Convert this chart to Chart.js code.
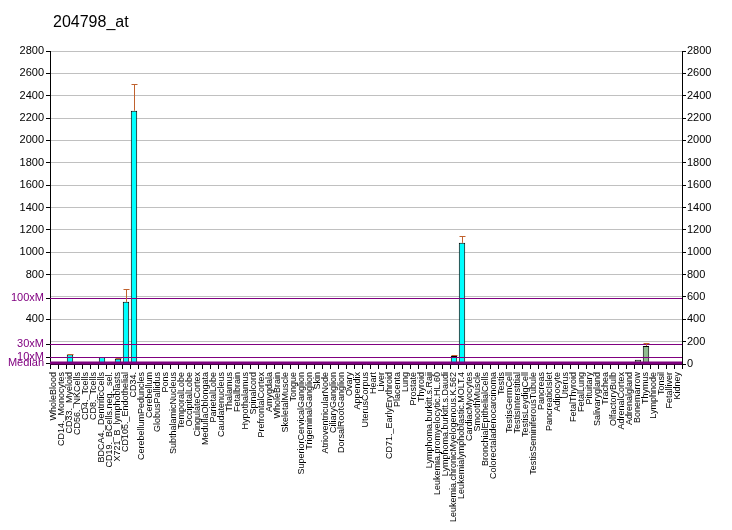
<!DOCTYPE html>
<html>
<head>
<meta charset="utf-8">
<script src="https://cdn.jsdelivr.net/npm/chart.js@4.4.1/dist/chart.umd.min.js"></script>
<style>
  html, body { margin: 0; padding: 0; background: #fff; }
</style>
</head>
<body>
<canvas id="chart" width="732" height="530"></canvas>
<script>
// Expression profile 204798_at — bars per tissue with error bars and median multiples.

const TITLE = '204798_at';

const CATEGORIES = [
    'WholeBlood', 'CD14._Monocytes', 'CD33._Myeloid', 'CD56._NKCells', 'CD4._Tcells',
    'CD8._Tcells', 'BDCA4._DentriticCells', 'CD19._BCells.neg._sel.', 'X721_B_lymphoblasts', 'CD105._Endothelial',
    'CD34.', 'CerebellumPeduncles', 'Cerebellum', 'GlobusPallidus', 'Pons',
    'SubthalamicNucleus', 'TemporalLobe', 'OccipitalLobe', 'CingulateCortex', 'MedullaOblongata',
    'ParietalLobe', 'Caudatenucleus', 'Thalamus', 'Fetalbrain', 'Hypothalamus',
    'Spinalcord', 'PrefrontalCortex', 'Amygdala', 'WholeBrain', 'SkeletalMuscle',
    'Tongue', 'SuperiorCervicalGanglion', 'TrigeminalGanglion', 'Skin', 'AtrioventricularNode',
    'CiliaryGanglion', 'DorsalRootGanglion', 'Ovary', 'Appendix', 'UterusCorpus',
    'Heart', 'Liver', 'CD71._EarlyErythroid', 'Placenta', 'Lung',
    'Prostate', 'Thyroid', 'Lymphoma.burkitt.s.Raji', 'Leukemia.promyelocytic.HL.60', 'Lymphoma.burkitt.s.Daudi',
    'Leukemia.chronicMyelogenous.K.562', 'Leukemialymphoblastic.MOLT.4', 'CardiacMyocytes', 'SmoothMuscle', 'BronchialEpithelialCells',
    'Colorectaladenocarcinoma', 'Testis', 'TestisGermCell', 'TestisInterstitial', 'TestisLeydigCell',
    'TestisSeminiferousTubule', 'Pancreas', 'PancreaticIslet', 'Adipocyte', 'Uterus',
    'FetalThyroid', 'FetalLung', 'Pituitary', 'Salivarygland', 'Trachea',
    'OlfactoryBulb', 'AdrenalCortex', 'Adrenalgland', 'Bonemarrow', 'Thymus',
    'Lymphnode', 'Tonsil', 'Fetalliver', 'Kidney'
];

const VALUES = [
    5, 6, 84, 5, 4,
    5, 60, 6, 46, 556,
    2266, 4, 5, 3, 4,
    5, 4, 6, 5, 4,
    5, 4, 6, 5, 4,
    5, 6, 4, 5, 6,
    5, 4, 5, 6, 4,
    5, 4, 6, 5, 5,
    6, 4, 7, 5, 6,
    5, 4, 6, 7, 5,
    72, 1084, 5, 6, 4,
    5, 6, 4, 5, 6,
    4, 5, 6, 5, 4,
    6, 5, 4, 6, 5,
    4, 6, 5, 37, 162,
    6, 5, 4, 5
];

const ERRORS = [
    0, 0, 6, 0, 0,
    0, 0, 0, 9, 116,
    242, 0, 0, 0, 0,
    0, 0, 0, 0, 0,
    0, 0, 0, 0, 0,
    0, 0, 0, 0, 0,
    0, 0, 0, 0, 0,
    0, 0, 0, 0, 0,
    0, 0, 0, 0, 0,
    0, 0, 0, 0, 0,
    12, 63, 0, 0, 0,
    0, 0, 0, 0, 0,
    0, 0, 0, 0, 0,
    0, 0, 0, 0, 0,
    0, 0, 0, 0, 28,
    0, 0, 0, 0
];

const GREEN_CATEGORIES = ['Bonemarrow', 'Thymus', 'Lymphnode', 'Tonsil', 'Fetalliver', 'Kidney'];

const MEDIAN = 5.9;
const MEDIAN_MULTIPLES = [1, 10, 30, 100];
const MEDIAN_LABELS = ['Median', '10xM', '30xM', '100xM'];

const LEFT_TICKS = [2800, 2600, 2400, 2200, 2000, 1800, 1600, 1400, 1200, 1000, 800, 400];
const Y_MAX = 2800;
const Y_STEP = 200;

const PURPLE = '#800080';
const ERR_COLOR = '#c0622e';
const FONT = "'Liberation Sans', Arial, sans-serif";

const markerValues = MEDIAN_MULTIPLES.map(m => m * MEDIAN);

function markerLabel(v) {
    const idx = markerValues.indexOf(v);
    return idx >= 0 ? MEDIAN_LABELS[idx] : null;
}

const titlePlugin = {
    id: 'plainTitle',
    afterDraw(chart) {
        const ctx = chart.ctx;
        ctx.save();
        ctx.fillStyle = '#000';
        ctx.font = '16px ' + FONT;
        ctx.textBaseline = 'alphabetic';
        ctx.fillText(TITLE, 53, 27);
        ctx.restore();
    }
};

const overlayPlugin = {
    id: 'overlay',
    afterDatasetsDraw(chart) {
        const { ctx, chartArea, scales } = chart;
        const y = scales.y;
        const meta = chart.getDatasetMeta(0);
        ctx.save();

        // median lines
        ctx.strokeStyle = PURPLE;
        markerValues.forEach((v, i) => {
            const py = Math.round(y.getPixelForValue(v));
            ctx.lineWidth = i === 0 ? 3 : 1;
            ctx.beginPath();
            ctx.moveTo(chartArea.left, py + (i === 0 ? 0 : 0.5));
            ctx.lineTo(chartArea.right, py + (i === 0 ? 0 : 0.5));
            ctx.stroke();
        });

        // error bars
        ctx.strokeStyle = ERR_COLOR;
        ctx.lineWidth = 1;
        VALUES.forEach((v, i) => {
            const e = ERRORS[i];
            if (!e) return;
            const px = Math.round(meta.data[i].x) + 0.5;
            const top = Math.round(y.getPixelForValue(v + e)) + 0.5;
            const base = y.getPixelForValue(v);
            ctx.beginPath();
            ctx.moveTo(px, base);
            ctx.lineTo(px, top);
            ctx.moveTo(px - 3, top);
            ctx.lineTo(px + 3, top);
            ctx.stroke();
        });
        ctx.restore();
    }
};

const tickFont = { family: FONT, size: 11 };

new Chart(document.getElementById('chart'), {
    type: 'bar',
    data: {
        labels: CATEGORIES,
        datasets: [{
            data: VALUES,
            backgroundColor: CATEGORIES.map(c => GREEN_CATEGORIES.includes(c) ? '#8fbc8f' : '#00ffff'),
            borderColor: '#000',
            borderWidth: 1,
            barPercentage: 0.8,
            categoryPercentage: 1
        }]
    },
    options: {
        responsive: false,
        animation: false,
        devicePixelRatio: 1,
        layout: { padding: { top: 51, left: 0, right: 0, bottom: 0 } },
        plugins: {
            legend: { display: false },
            tooltip: { enabled: false }
        },
        scales: {
            x: {
                offset: true,
                grid: { drawOnChartArea: false, drawTicks: true, tickLength: 5, tickColor: '#000', offset: true },
                border: { display: true, color: '#000' },
                ticks: {
                    autoSkip: false,
                    minRotation: 90,
                    maxRotation: 90,
                    padding: 3,
                    color: '#000',
                    font: { family: FONT, size: 9 }
                },
                afterFit(s) { s.height = 166; }
            },
            y: {
                position: 'left',
                min: 0,
                max: Y_MAX,
                afterBuildTicks(s) {
                    s.ticks = LEFT_TICKS.concat(markerValues).map(v => ({ value: v }));
                },
                ticks: {
                    autoSkip: false,
                    padding: 2,
                    font: tickFont,
                    color: c => markerLabel(c.tick.value) ? PURPLE : '#000',
                    callback: v => markerLabel(v) || String(v)
                },
                grid: { drawOnChartArea: false, tickLength: 4, tickColor: '#000' },
                border: { color: '#000' },
                afterFit(s) { s.width = 50; }
            },
            y2: {
                position: 'right',
                min: 0,
                max: Y_MAX,
                ticks: {
                    stepSize: Y_STEP,
                    autoSkip: false,
                    padding: 1,
                    font: tickFont,
                    color: '#000',
                    callback: v => String(v)
                },
                grid: { color: '#c0c0c0', tickLength: 4, tickColor: '#000' },
                border: { color: '#000' },
                afterFit(s) { s.width = 50; }
            }
        }
    },
    plugins: [overlayPlugin, titlePlugin]
});
</script>
</body>
</html>
